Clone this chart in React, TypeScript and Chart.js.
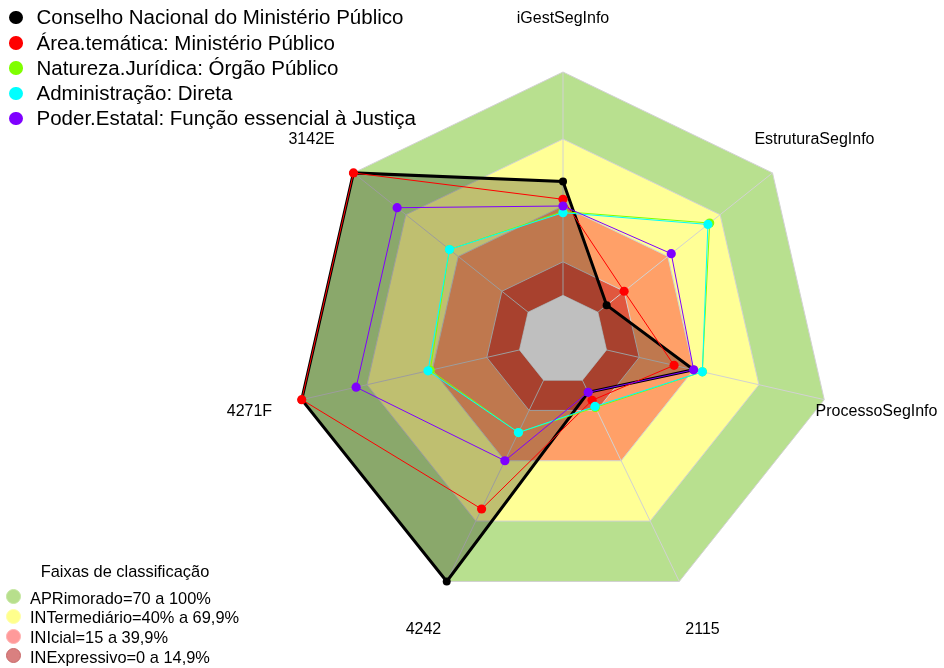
import React, { useEffect, useRef } from "react";
import { Chart, registerables } from "chart.js";

Chart.register(...registerables);

// ---- data ----
const axisLabels = ["iGestSegInfo", "EstruturaSegInfo", "ProcessoSegInfo", "2115", "4242", "4271F", "3142E"];

const conselho = [51, 5, 40, 6, 100, 100, 100];
const areaTematica = [43, 15, 31, 10, 64, 100, 100];
const natureza = [37.5, 64, 44, 13.5, 26, 41, 45];
const administracao = [37, 63, 44, 13, 26, 42, 45];
const poderEstatal = [40, 42, 40, 6, 40, 75, 75];

const seriesNames = [
  "Conselho Nacional do Ministério Público",
  "Área.temática: Ministério Público",
  "Natureza.Jurídica: Órgão Público",
  "Administração: Direta",
  "Poder.Estatal: Função essencial à Justiça",
];
const seriesColors = ["#000000", "#FF0000", "#7FFF00", "#00FFFF", "#7F00FF"];

// classification bands (lower/upper limits) and centre (empty) limit
const bandLimits = [0, 15, 40, 70, 100];
const bandColors = ["#E0573E", "#FFA068", "#FFFF96", "#B8E08F"];
const innerLimit = [0, 0, 0, 0, 0, 0, 0];
const gridTicks = [-20, 0, 15, 40, 70, 100];
const scaleMin = -20;
const scaleMax = 100;

const bandLegendTitle = "Faixas de classificação";
const bandLegendLabels = [
  "APRimorado=70 a 100%",
  "INTermediário=40% a 69,9%",
  "INIcial=15 a 39,9%",
  "INExpressivo=0 a 14,9%",
];
const bandLegendFill = ["#B7DF8C", "#FFFF8C", "#FF9A9A", "#D98080"];
const bandLegendBorder = ["#C4E6A0", "#FFFFA8", "#FFB0B0", "#C86A6A"];

const FONT = '"Liberation Sans", Arial, Helvetica, sans-serif';

const bandsPlugin = {
  id: "bands",
  beforeDraw(chart: any) {
    const scale = chart.scales.r;
    const ctx = chart.ctx;
    const n = chart.data.labels.length;
    ctx.save();
    for (let b = bandLimits.length - 1; b >= 1; b--) {
      ctx.beginPath();
      for (let i = 0; i < n; i++) {
        const p = scale.getPointPositionForValue(i, bandLimits[b]);
        if (i === 0) ctx.moveTo(p.x, p.y);
        else ctx.lineTo(p.x, p.y);
      }
      ctx.closePath();
      ctx.fillStyle = bandColors[b - 1];
      ctx.fill();
    }
    ctx.restore();
  },
};

const axisLabelPlugin = {
  id: "axisLabelsText",
  afterDraw(chart: any) {
    const scale = chart.scales.r;
    const ctx = chart.ctx;
    ctx.save();
    ctx.font = "16px " + FONT;
    ctx.fillStyle = "#000000";
    ctx.textAlign = "center";
    ctx.textBaseline = "middle";
    chart.data.labels.forEach((lab: string, i: number) => {
      const p = scale.getPointPosition(i, scale.drawingArea * 1.2);
      ctx.fillText(lab, p.x, p.y);
    });
    ctx.restore();
  },
};

export default function App() {
  const canvasRef = useRef<HTMLCanvasElement | null>(null);

  useEffect(() => {
    if (!canvasRef.current) return;
    const seriesData = [conselho, areaTematica, natureza, administracao, poderEstatal];
    const seriesDatasets = seriesData.map((d, k) => ({
      label: seriesNames[k],
      data: d,
      borderColor: seriesColors[k],
      backgroundColor: k === 0 ? "rgba(0,0,0,0.25)" : "rgba(0,0,0,0)",
      fill: k === 0 ? "start" : false,
      borderWidth: k === 0 ? 3 : 1,
      pointRadius: k === 0 ? 4 : 4.6,
      pointBackgroundColor: seriesColors[k],
      pointBorderColor: seriesColors[k],
      pointBorderWidth: 0,
      pointHoverRadius: 4,
      tension: 0,
      order: 5 - k,
    }));
    const chart = new Chart(canvasRef.current, {
      type: "radar",
      data: {
        labels: axisLabels,
        datasets: [
          {
            label: "centro",
            data: innerLimit,
            borderWidth: 0,
            borderColor: "rgba(0,0,0,0)",
            backgroundColor: "#FFFFFF",
            fill: "start",
            pointRadius: 0,
            order: 10,
          } as any,
          ...seriesDatasets,
        ],
      },
      options: {
        responsive: false,
        maintainAspectRatio: false,
        devicePixelRatio: 1,
        animation: false,
        layout: { padding: { left: 295, right: 113, top: 72, bottom: 60 } },
        plugins: {
          legend: { display: false },
          tooltip: { enabled: false },
        },
        scales: {
          r: {
            min: scaleMin,
            max: scaleMax,
            beginAtZero: false,
            startAngle: 0,
            ticks: { display: false },
            afterBuildTicks: (s: any) => {
              s.ticks = gridTicks.map((v) => ({ value: v }));
            },
            grid: { color: "#D2D2D2", lineWidth: 1 },
            angleLines: { color: "#D2D2D2", lineWidth: 1 },
            pointLabels: { display: false },
          } as any,
        },
      },
      plugins: [bandsPlugin, axisLabelPlugin],
    } as any);
    return () => chart.destroy();
  }, []);

  return (
    <div style={{ position: "absolute", left: 0, top: 0, width: 944, height: 668, background: "#FFFFFF", fontFamily: FONT }}>
      <canvas ref={canvasRef} width={944} height={668} style={{ display: "block", width: 944, height: 668 }} />
      {seriesNames.map((name, k) => (
        <div key={name} style={{ position: "absolute", left: 0, top: 17.3 + 25.25 * k - 13, height: 26, display: "flex", alignItems: "center" }}>
          <span style={{ position: "absolute", left: 9, top: 6.5, width: 13.5, height: 13.5, borderRadius: "50%", background: seriesColors[k] }} />
          <span style={{ position: "absolute", left: 36.5, top: 0, lineHeight: "26px", fontSize: "20.5px", color: "#000", whiteSpace: "nowrap" }}>{name}</span>
        </div>
      ))}
      <div style={{ position: "absolute", left: 0, width: 250, top: 561, textAlign: "center", fontSize: "16.4px", lineHeight: "20px", whiteSpace: "nowrap", color: "#000" }}>
        {bandLegendTitle}
      </div>
      {bandLegendLabels.map((lab, k) => (
        <div key={lab} style={{ position: "absolute", left: 0, top: 597.7 + 19.7 * k - 10, height: 20 }}>
          <span style={{ position: "absolute", left: 6, top: 1.7, width: 15, height: 15, borderRadius: "50%", background: bandLegendFill[k], border: "1px solid " + bandLegendBorder[k], boxSizing: "border-box" }} />
          <span style={{ position: "absolute", left: 30, top: 0, lineHeight: "20px", fontSize: "16.4px", color: "#000", whiteSpace: "nowrap" }}>{lab}</span>
        </div>
      ))}
    </div>
  );
}
